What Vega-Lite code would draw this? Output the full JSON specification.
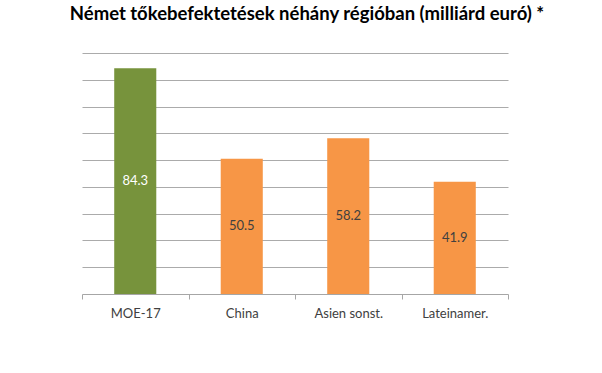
{
  "$schema": "https://vega.github.io/schema/vega-lite/v6.json",
  "width": 426,
  "height": 241,
  "autosize": "none",
  "padding": {"left": 82, "top": 53, "right": 94, "bottom": 79},
  "background": "white",
  "title": {
    "text": "Német tőkebefektetések néhány régióban (milliárd euró) *",
    "font": "Lato",
    "fontSize": 18.5,
    "fontWeight": "bold",
    "color": "#000000",
    "anchor": "middle",
    "offset": 30,
    "dx": 12
  },
  "config": {"view": {"stroke": null}},
  "data": {
    "values": [
      {"region": "MOE-17", "value": 84.3},
      {"region": "China", "value": 50.5},
      {"region": "Asien sonst.", "value": 58.2},
      {"region": "Lateinamer.", "value": 41.9}
    ]
  },
  "transform": [{"calculate": "datum.value / 2", "as": "mid"}],
  "encoding": {
    "x": {
      "field": "region",
      "type": "nominal",
      "sort": null,
      "scale": {"paddingInner": 0, "paddingOuter": 0},
      "axis": {
        "title": null,
        "labelAngle": 0,
        "labelFont": "Lato",
        "labelFontSize": 13,
        "labelColor": "#404040",
        "labelPadding": 8,
        "tickBand": "extent",
        "tickSize": 5,
        "tickColor": "#A6A6A6",
        "domainColor": "#A6A6A6",
        "grid": false
      }
    }
  },
  "layer": [
    {
      "mark": {"type": "bar", "width": {"band": 0.395}},
      "encoding": {
        "y": {
          "field": "value",
          "type": "quantitative",
          "scale": {"domain": [0, 90], "nice": false},
          "axis": {
            "title": null,
            "labels": false,
            "ticks": false,
            "domain": false,
            "grid": true,
            "gridColor": "#ABABAB",
            "tickCount": 9,
            "values": [10, 20, 30, 40, 50, 60, 70, 80, 90]
          }
        },
        "color": {
          "condition": {"test": "datum.region === 'MOE-17'", "value": "#77933C"},
          "value": "#F79646"
        }
      }
    },
    {
      "mark": {"type": "text", "font": "Lato", "fontSize": 13, "baseline": "middle", "align": "center"},
      "encoding": {
        "y": {
          "field": "mid",
          "type": "quantitative",
          "scale": {"domain": [0, 90], "nice": false},
          "axis": {
            "title": null,
            "labels": false,
            "ticks": false,
            "domain": false,
            "grid": true,
            "gridColor": "#ABABAB",
            "tickCount": 9,
            "values": [10, 20, 30, 40, 50, 60, 70, 80, 90]
          }
        },
        "text": {"field": "value", "type": "quantitative", "format": ".1f"},
        "color": {
          "condition": {"test": "datum.region === 'MOE-17'", "value": "#FFFFFF"},
          "value": "#404040"
        }
      }
    }
  ]
}
